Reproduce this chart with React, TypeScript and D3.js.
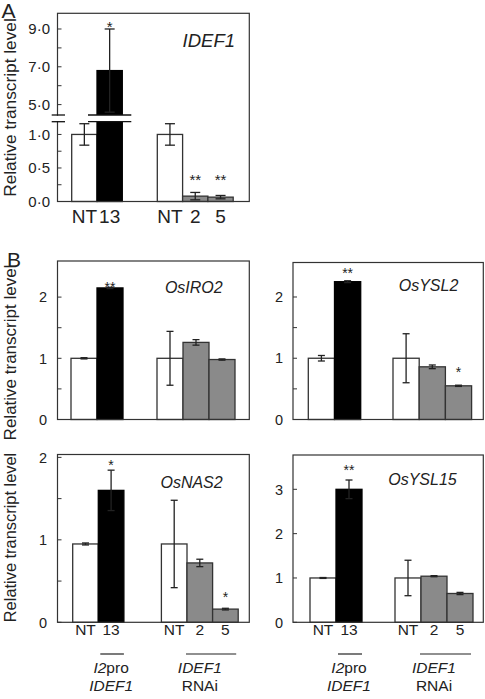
import React from "react";
import * as d3 from "d3";

// ---------- data ----------
const barLabels = ["NT", "13", "NT", "2", "5"];
const barGroups = ["I2pro", "I2pro", "RNAi", "RNAi", "RNAi"];
const barKinds = ["nt", "oe", "nt", "rnai", "rnai"];

const idef1Values = [1.0, 6.8, 1.0, 0.08, 0.065];
const idef1Errors = [0.16, 2.2, 0.16, 0.055, 0.025];
const idef1Stars = ["", "*", "", "**", "**"];
const idef1StarLevels = [0, 9.32, 0, 0.38, 0.38];

const iro2Values = [1.0, 2.15, 1.0, 1.26, 0.98];
const iro2Errors = [0.01, 0.01, 0.44, 0.045, 0.01];
const iro2Stars = ["", "**", "", "", ""];
const iro2StarLevels = [0, 2.22, 0, 0, 0];

const ysl2Values = [1.0, 2.25, 1.0, 0.86, 0.55];
const ysl2Errors = [0.045, 0.015, 0.4, 0.03, 0.01];
const ysl2Stars = ["", "**", "", "", "*"];
const ysl2StarLevels = [0, 2.44, 0, 0, 0.83];

const nas2Values = [0.95, 1.6, 0.95, 0.72, 0.16];
const nas2Errors = [0.012, 0.245, 0.53, 0.045, 0.01];
const nas2Stars = ["", "*", "", "", "*"];
const nas2StarLevels = [0, 1.94, 0, 0, 0.35];

const ysl15Values = [1.0, 3.0, 1.0, 1.04, 0.65];
const ysl15Errors = [0.01, 0.21, 0.4, 0.012, 0.025];
const ysl15Stars = ["", "**", "", "", ""];
const ysl15StarLevels = [0, 3.5, 0, 0, 0];

const idef1LowTicks = [0, 0.25, 0.5, 0.75, 1.0];
const idef1LowLabels = [0, 0.5, 1.0];
const idef1HighTicks = [5, 6, 7, 8, 9];
const idef1HighLabels = [5, 7, 9];
const halfTicks = [0, 0.5, 1, 1.5, 2];
const halfLabels = [0, 1, 2];
const ysl15Ticks = [0, 1, 2, 3];
const ysl15Labels = [0, 1, 2, 3];

// ---------- styles ----------
const FONT = '"Liberation Sans", Arial, Helvetica, sans-serif';
const INK = "#222";
const fill = d3.scaleOrdinal<string, string>().domain(["nt", "oe", "rnai"]).range(["#ffffff", "#000000", "#8a8a8a"]);
const fmtDot = (v: number) => d3.format(".1f")(v).replace(".", "\u00b7");

type Layout = { left: number; right: number; top: number; bottom: number; x0: number; bw: number; gap: number };

function barX(layout: Layout) {
  const g1 = d3.scaleBand<number>().domain([0, 1]).range([layout.x0, layout.x0 + 2 * layout.bw]);
  const start2 = layout.x0 + 2 * layout.bw + layout.gap;
  const g2 = d3.scaleBand<number>().domain([2, 3, 4]).range([start2, start2 + 3 * layout.bw]);
  return (i: number) => (barGroups[i] === "I2pro" ? (g1(i) as number) : (g2(i) as number));
}

function Panel(props: {
  layout: Layout;
  y: (v: number) => number;
  values: number[];
  errors: number[];
  stars: string[];
  starLevels: number[];
  ticks: number[];
  labels: number[];
  fmt: (v: number) => string;
  tickFont: number;
  labelGap: number;
  capW: number;
  gene: string;
  geneX: number;
  geneY: number;
  geneFont: number;
  starFont: number;
  xLabels?: { font: number; baseline: number };
  groups?: boolean;
  children?: React.ReactNode;
}) {
  const { layout: L, y } = props;
  const bx = barX(L);
  const bw = L.bw;
  return (
    <g>
      {props.values.map((v, i) => (
        <rect key={"b" + i} x={bx(i)} y={y(v)} width={bw} height={y(0) - y(v)}
          fill={fill(barKinds[i])} stroke={barKinds[i] === "oe" ? "#000" : "#333"} strokeWidth={1.3} />
      ))}
      {props.values.map((v, i) => {
        const cx = bx(i) + bw / 2;
        const y1 = y(v + props.errors[i]);
        const y2 = y(v - props.errors[i]);
        const c = props.capW / 2;
        return (
          <g key={"e" + i} stroke={INK} strokeWidth={1.3}>
            <line x1={cx} x2={cx} y1={y1} y2={y2} />
            <line x1={cx - c} x2={cx + c} y1={y1} y2={y1} />
            <line x1={cx - c} x2={cx + c} y1={y2} y2={y2} />
          </g>
        );
      })}
      {props.children}
      {props.stars.map((s, i) =>
        s ? (
          <text key={"s" + i} x={bx(i) + bw / 2} y={y(props.starLevels[i]) + props.starFont * 0.58}
            textAnchor="middle" fontFamily={FONT} fontSize={props.starFont} fill={INK}>{s}</text>
        ) : null
      )}
      {/* frame */}
      <rect x={L.left} y={L.top} width={L.right - L.left} height={L.bottom - L.top} fill="none" stroke="#333" strokeWidth={1.2} />
      {props.ticks.map((t, i) => (
        <line key={"t" + i} x1={L.left} x2={L.left + 4} y1={y(t)} y2={y(t)} stroke="#333" strokeWidth={1} />
      ))}
      {props.labels.map((t, i) => (
        <text key={"l" + i} x={L.left - props.labelGap} y={y(t)} dy="0.36em" textAnchor="end"
          fontFamily={FONT} fontSize={props.tickFont} fill={INK}>{props.fmt(t)}</text>
      ))}
      <text x={props.geneX} y={props.geneY} textAnchor="end" fontFamily={FONT} fontStyle="italic"
        fontSize={props.geneFont} fill={INK}>{props.gene}</text>
      {props.xLabels &&
        barLabels.map((lab, i) => (
          <text key={"x" + i} x={bx(i) + bw / 2} y={props.xLabels!.baseline} textAnchor="middle"
            fontFamily={FONT} fontSize={props.xLabels!.font} fill={INK}>{lab}</text>
        ))}
      {props.groups && (
        <g fontFamily={FONT} fontSize={15.5} fill={INK}>
          <line x1={bx(1) + 2} x2={bx(1) + bw} y1={654} y2={654} stroke={INK} strokeWidth={1.2} />
          <line x1={bx(3) - 1} x2={bx(4) + bw - 2} y1={654} y2={654} stroke={INK} strokeWidth={1.2} />
          <text x={bx(1) + bw / 2} y={673.3} textAnchor="middle">
            <tspan fontStyle="italic">I2</tspan>
            <tspan>pro</tspan>
          </text>
          <text x={bx(1) + bw / 2} y={690.7} textAnchor="middle" fontStyle="italic">IDEF1</text>
          <text x={bx(3) + bw / 2} y={673.3} textAnchor="middle" fontStyle="italic">IDEF1</text>
          <text x={bx(3) + bw / 2} y={690.7} textAnchor="middle">RNAi</text>
        </g>
      )}
    </g>
  );
}

const layoutA: Layout = { left: 57.5, right: 249.3, top: 13.3, bottom: 201.5, x0: 71.7, bw: 25.3, gap: 35 };
const layoutTL: Layout = { left: 57.5, right: 249.3, top: 261, bottom: 419.5, x0: 71, bw: 26, gap: 34 };
const layoutTR: Layout = { left: 293, right: 483.3, top: 262.5, bottom: 419.5, x0: 308.3, bw: 26.2, gap: 32.3 };
const layoutBL: Layout = { left: 57.5, right: 249.3, top: 454.5, bottom: 622.3, x0: 72.7, bw: 25.6, gap: 37.5 };
const layoutBR: Layout = { left: 293, right: 483.3, top: 455, bottom: 622.3, x0: 310, bw: 26, gap: 33 };

export default function App() {
  // Panel A: broken axis
  const lowA = d3.scaleLinear().domain([0, 1.19]).range([201.5, 121.7]);
  const highA = d3.scaleLinear().domain([4.45, 9.83]).range([115, 13.3]);
  const yA = (v: number) => (v <= 1.19 ? lowA(v) : highA(v));

  const yTL = d3.scaleLinear().domain([0, 2.59]).range([419.5, 261]);
  const yTR = d3.scaleLinear().domain([0, 2.563]).range([419.5, 262.5]);
  const yBL = d3.scaleLinear().domain([0, 2.035]).range([622.3, 454.5]);
  const yBR = d3.scaleLinear().domain([0, 3.774]).range([622.3, 455]);

  const bxA = barX(layoutA);

  return (
    <div style={{ position: "absolute", left: 0, top: 0 }}>
      <svg width={485} height={699} style={{ display: "block", background: "#fff" }}>
        <rect width={485} height={699} fill="#fff" />
        <text x={1.5} y={18.3} fontFamily={FONT} fontSize={21} fill={INK}>A</text>
        <text x={7} y={267} fontFamily={FONT} fontSize={21} fill={INK}>B</text>

        <text transform="translate(16,107.5) rotate(-90)" textAnchor="middle" fontFamily={FONT} fontSize={17.3} fill={INK}>Relative transcript level</text>
        <text transform="translate(16,352.5) rotate(-90)" textAnchor="middle" fontFamily={FONT} fontSize={17} fill={INK}>Relative transcript level</text>
        <text transform="translate(16,537.5) rotate(-90)" textAnchor="middle" fontFamily={FONT} fontSize={16.4} fill={INK}>Relative transcript level</text>

        <Panel layout={layoutA} y={yA} values={idef1Values} errors={idef1Errors} stars={idef1Stars}
          starLevels={idef1StarLevels} ticks={[...idef1LowTicks, ...idef1HighTicks]}
          labels={[...idef1LowLabels, ...idef1HighLabels]} fmt={fmtDot} tickFont={15} labelGap={7.5}
          capW={10} gene="IDEF1" geneX={235} geneY={46.7} geneFont={18.5} starFont={15}
          xLabels={{ font: 19, baseline: 223.3 }}>
          {/* break on the tall bar */}
          <rect x={bxA(1) - 9} y={115} width={layoutA.bw + 18} height={6.7} fill="#fff" />
          <line x1={bxA(1) - 9} x2={bxA(1) + layoutA.bw + 9} y1={115} y2={115} stroke="#111" strokeWidth={1.3} />
          <line x1={bxA(1) - 9} x2={bxA(1) + layoutA.bw + 9} y1={121.7} y2={121.7} stroke="#111" strokeWidth={1.3} />
        </Panel>
        {/* axis break */}
        <rect x={layoutA.left - 3} y={115.7} width={6} height={5.3} fill="#fff" />
        <line x1={51.7} x2={65} y1={115} y2={115} stroke="#111" strokeWidth={1.3} />
        <line x1={51.7} x2={65} y1={121.7} y2={121.7} stroke="#111" strokeWidth={1.3} />

        <Panel layout={layoutTL} y={yTL} values={iro2Values} errors={iro2Errors} stars={iro2Stars}
          starLevels={iro2StarLevels} ticks={halfTicks} labels={halfLabels} fmt={(v) => String(v)}
          tickFont={14.5} labelGap={10.5} capW={7} gene="OsIRO2" geneX={222.7} geneY={292.5}
          geneFont={16} starFont={14} />
        <Panel layout={layoutTR} y={yTR} values={ysl2Values} errors={ysl2Errors} stars={ysl2Stars}
          starLevels={ysl2StarLevels} ticks={halfTicks} labels={halfLabels} fmt={(v) => String(v)}
          tickFont={14.5} labelGap={10} capW={7} gene="OsYSL2" geneX={458.3} geneY={290.7}
          geneFont={16} starFont={14} />
        <Panel layout={layoutBL} y={yBL} values={nas2Values} errors={nas2Errors} stars={nas2Stars}
          starLevels={nas2StarLevels} ticks={halfTicks} labels={halfLabels} fmt={(v) => String(v)}
          tickFont={14.5} labelGap={10.5} capW={7} gene="OsNAS2" geneX={222.7} geneY={488.3}
          geneFont={16} starFont={14} xLabels={{ font: 15.5, baseline: 635 }} groups />
        <Panel layout={layoutBR} y={yBR} values={ysl15Values} errors={ysl15Errors} stars={ysl15Stars}
          starLevels={ysl15StarLevels} ticks={ysl15Ticks} labels={ysl15Labels} fmt={(v) => String(v)}
          tickFont={14.5} labelGap={10} capW={7} gene="OsYSL15" geneX={456.7} geneY={485}
          geneFont={16} starFont={14} xLabels={{ font: 15.5, baseline: 635 }} groups />
      </svg>
    </div>
  );
}
